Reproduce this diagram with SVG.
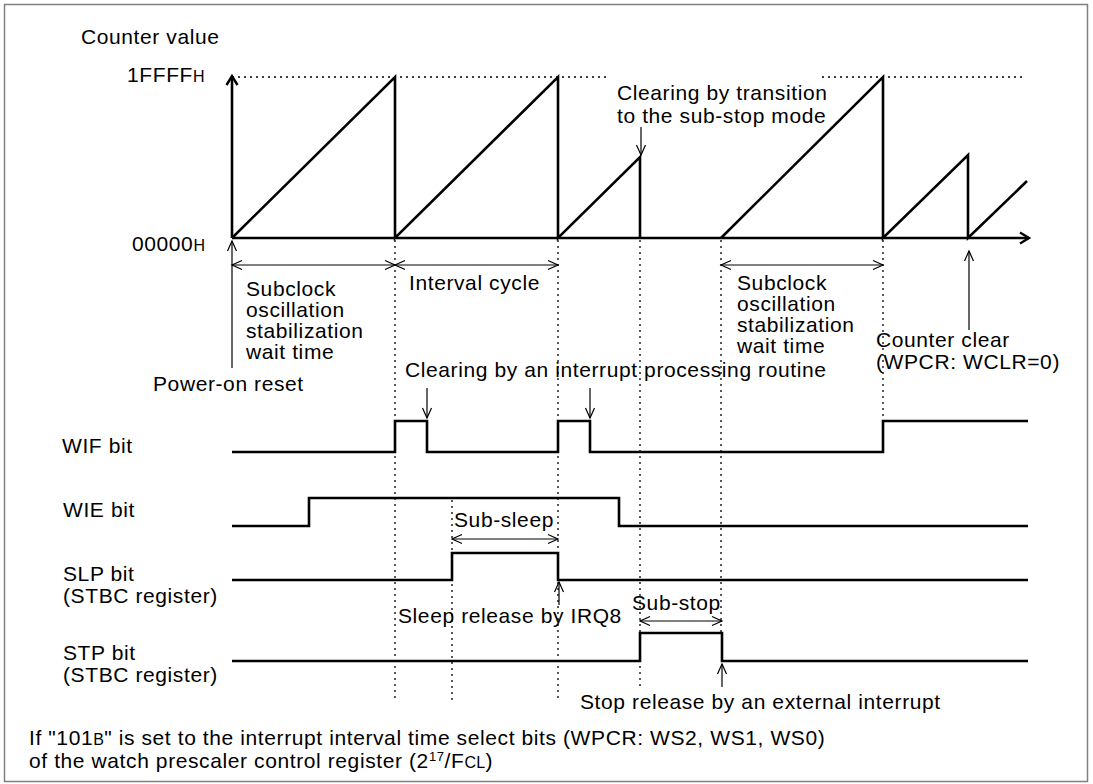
<svg xmlns="http://www.w3.org/2000/svg" width="1093" height="784" viewBox="0 0 1093 784">
<style>
text{font-family:"Liberation Sans",Arial,sans-serif;font-size:21px;letter-spacing:0.6px;fill:#000}
.sm{font-size:16px;letter-spacing:0.3px}
.thick{fill:none;stroke:#000;stroke-width:2.6;stroke-linejoin:miter}
.thin{fill:none;stroke:#000;stroke-width:1.2}
.dot{fill:none;stroke:#000;stroke-width:1.3;stroke-dasharray:2 4}
</style>
<defs>
<marker id="ah" markerUnits="userSpaceOnUse" markerWidth="14" markerHeight="12" viewBox="-12 -6 14 12" refX="0" refY="0" orient="auto-start-reverse" overflow="visible">
<path d="M-10,-4.5 L0,0 L-10,4.5" fill="none" stroke="#000" stroke-width="1.2"/>
</marker>
<marker id="ahb" markerUnits="userSpaceOnUse" markerWidth="14" markerHeight="14" viewBox="-12 -7 14 14" refX="0" refY="0" orient="auto" overflow="visible">
<path d="M-9,-5.5 L0,0 L-9,5.5" fill="none" stroke="#000" stroke-width="2.4"/>
</marker>
</defs>
<rect x="4.5" y="4.5" width="1083" height="777" fill="#fff" stroke="#808080" stroke-width="1.5"/>

<g id="axes">
<line class="thick" x1="232" y1="238" x2="232" y2="76" marker-end="url(#ahb)"/>
<line class="thick" x1="232" y1="238" x2="1029" y2="238" marker-end="url(#ahb)"/>
<line class="dot" x1="232" y1="77" x2="610" y2="77"/>
<line class="dot" x1="822" y1="77" x2="1025" y2="77"/>
<text x="81" y="44">Counter value</text>
<text x="127" y="82">1FFFF<tspan class="sm">H</tspan></text>
<text x="132" y="251">00000<tspan class="sm">H</tspan></text>
</g>

<g id="counter">
<path class="thick" d="M232,238 L395,77 V238 L558,77 V238 L640,157 V238 M721,238 L883,77 V238 L968,155 V238 L1027,181"/>
</g>

<g id="guides">
<line class="dot" x1="395" y1="240" x2="395" y2="700"/>
<line class="dot" x1="452" y1="500" x2="452" y2="700"/>
<line class="dot" x1="558" y1="240" x2="558" y2="700"/>
<line class="dot" x1="640" y1="240" x2="640" y2="690"/>
<line class="dot" x1="721" y1="240" x2="721" y2="633"/>
<line class="dot" x1="883" y1="240" x2="883" y2="421"/>
</g>

<g id="connectors">
<line class="thin" x1="232" y1="368" x2="232" y2="241" marker-end="url(#ah)"/>
<line class="thin" x1="232" y1="265" x2="395" y2="265" marker-start="url(#ah)" marker-end="url(#ah)"/>
<line class="thin" x1="395" y1="265" x2="558" y2="265" marker-start="url(#ah)" marker-end="url(#ah)"/>
<line class="thin" x1="721" y1="265" x2="883" y2="265" marker-start="url(#ah)" marker-end="url(#ah)"/>
<line class="thin" x1="969" y1="330" x2="969" y2="251" marker-end="url(#ah)"/>
<line class="thin" x1="641" y1="127" x2="641" y2="155" marker-end="url(#ah)"/>
<line class="thin" x1="427" y1="388" x2="427" y2="418" marker-end="url(#ah)"/>
<line class="thin" x1="590" y1="388" x2="590" y2="418" marker-end="url(#ah)"/>
<line class="thin" x1="452" y1="539" x2="558" y2="539" marker-start="url(#ah)" marker-end="url(#ah)"/>
<line class="thin" x1="559" y1="605" x2="559" y2="582" marker-end="url(#ah)"/>
<line class="thin" x1="640" y1="621" x2="722" y2="621" marker-start="url(#ah)" marker-end="url(#ah)"/>
<line class="thin" x1="722" y1="687" x2="722" y2="664" marker-end="url(#ah)"/>
</g>

<g id="signals">
<path class="thick" d="M232,452 H395 V421 H427 V452 H558 V421 H590 V452 H883 V421 H1028"/>
<path class="thick" d="M232,526 H309 V498 H619 V526 H1028"/>
<path class="thick" d="M232,580 H452 V553 H558 V580 H1028"/>
<path class="thick" d="M232,661 H640 V633 H722 V661 H1028"/>
</g>

<g id="labels">
<text x="246" y="296">Subclock</text>
<text x="246" y="317">oscillation</text>
<text x="246" y="338">stabilization</text>
<text x="246" y="359">wait time</text>
<text x="409" y="290">Interval cycle</text>
<text x="737" y="290">Subclock</text>
<text x="737" y="311">oscillation</text>
<text x="737" y="332">stabilization</text>
<text x="737" y="353">wait time</text>
<text x="153" y="391">Power-on reset</text>
<text x="876" y="347">Counter clear</text>
<text x="876" y="369">(WPCR: WCLR=0)</text>
<text x="617" y="100">Clearing by transition</text>
<text x="617" y="123">to the sub-stop mode</text>
<text x="405" y="377">Clearing by an interrupt processing routine</text>
<text x="62" y="453">WIF bit</text>
<text x="63" y="517">WIE bit</text>
<text x="63" y="581">SLP bit</text>
<text x="63" y="603">(STBC register)</text>
<text x="63" y="660">STP bit</text>
<text x="63" y="682">(STBC register)</text>
<text x="454" y="527">Sub-sleep</text>
<text x="398" y="623">Sleep release by IRQ8</text>
<text x="632" y="610">Sub-stop</text>
<text x="580" y="709">Stop release by an external interrupt</text>
</g>

<g id="note">
<text x="29" y="745">If "101<tspan class="sm">B</tspan>" is set to the interrupt interval time select bits (WPCR: WS2, WS1, WS0)</text>
<text x="29" y="768">of the watch prescaler control register (2<tspan font-size="13" dy="-7">17</tspan><tspan dy="7">/F</tspan><tspan class="sm">CL</tspan>)</text>
</g>
</svg>
